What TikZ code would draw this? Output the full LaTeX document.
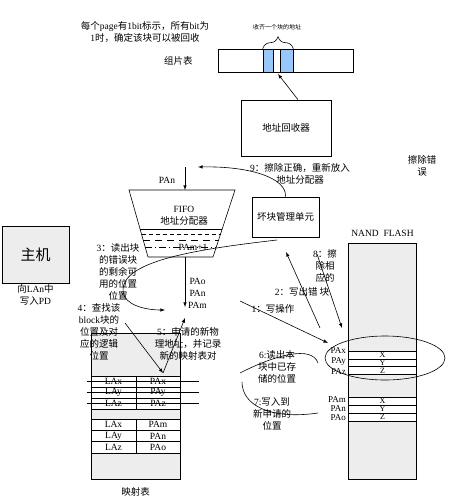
\documentclass[tikz,border=0pt]{standalone}
\usepackage{fontspec}
\setmainfont{Liberation Serif}
\newfontfamily\cjk{Noto Sans CJK SC}
\newcommand{\zh}[1]{{\cjk #1}}
\usetikzlibrary{positioning,decorations.pathreplacing}
\definecolor{cellblue}{RGB}{150,200,250}

\begin{document}
\begin{tikzpicture}[x=1pt, y=-1pt,
        box_node/.style={rectangle, draw=black, line width=0.6pt, inner sep=0pt, font=\fontsize{9.5}{12}\selectfont},
        grey_box/.style={box_node, fill=black!7},
        row_node/.style={box_node, fill=white},
        note/.style={align=center, inner sep=0pt, font=\fontsize{9.5}{12}\selectfont},
        pa_label/.style={anchor=east, inner sep=0pt, font=\fontsize{9}{10}\selectfont},
        link/.style={line width=0.6pt, -latex},
        curve/.style={line width=0.6pt},
        ]
            \useasboundingbox (0,0) rectangle (450,500);

            % fragment table
            \node[box_node, minimum width=135, minimum height=23]  (frag)    at (285.5,60.5)  {};
            \node[box_node, fill=cellblue, minimum width=10, minimum height=23]  (cell_a)  at (268,60.5)  {};
            \node[box_node, fill=cellblue, minimum width=13, minimum height=23]  (cell_b)  at (286.5,60.5)  {};
            \node[note]         (frag_name)  [left = 25pt of frag]                     {\zh{组片表}};
            \draw[curve, decorate, decoration={brace, amplitude=12pt}] (cell_a.north west) -- (cell_b.north east);
            \node[note, font=\fontsize{6}{7}\selectfont] (brace_note) at (277,27) {\zh{收齐一个块的地址}};
            \node[note]         (bit_note)   at (145,32)  {\zh{每个}page\zh{有}1bit\zh{标示，所有}bit\zh{为}\\1\zh{时，确定该块可以被回收}};
            \coordinate         (frag_gap)   at (278,74);

            % recycler and bad block unit
            \node[box_node, minimum width=90, minimum height=56]   (recycler)  at (286,128)   {\zh{地址回收器}};
            \node[box_node, minimum width=67, minimum height=40]   (badblock)  at (285.5,217) {\zh{坏块管理单元}};
            \node[note]         (note_9)     at (300,173.5) {9\zh{：擦除正确，重新放入}\\\zh{地址分配器}};
            \node[note]         (erase_err)  at (422,166)   {\zh{擦除错}\\\zh{误}};

            % FIFO
            \coordinate (fifo_tl) at (129,190);
            \coordinate (fifo_tr) at (235,190);
            \coordinate (fifo_br) at (213,257);
            \coordinate (fifo_bl) at (148,257);
            \draw[curve] (fifo_tl) -- (fifo_tr) -- (fifo_br) -- (fifo_bl) -- cycle;
            \node[note]         (fifo)       at (184,216)  {FIFO\\\zh{地址分配器}};
            \draw[curve] (140.1,229) -- (222.2,229);
            \draw[curve, dash pattern=on 4pt off 3pt] (141.5,234) -- (220.6,234);
            \draw[curve, dash pattern=on 7pt off 5pt] (143.2,240) -- (218.6,240);
            \draw[curve, dash pattern=on 7pt off 3pt on 1pt off 3pt] (145.2,247) -- (216.3,247);
            \node[note]         (pam1)       at (193,247)  {PAm+1};
            \coordinate (pan_in)   at (185,167);
            \coordinate (fifo_in)  at (185,190);
            \coordinate (fifo_out) at (185,257);
            \coordinate (alloc_pt) at (185,307);
            \node[note]         (pan_label)  at (167,180)  {PAn};
            \node[note, anchor=west] (out_list) at (188,293) {PAo\\PAn\\PAm};

            % host
            \node[grey_box, minimum width=67, minimum height=57, font=\fontsize{15}{18}\selectfont] (host) at (35.5,254.5) {\zh{主机}};
            \node[note]         (host_note)  [below = 1pt of host]  {\zh{向}LAn\zh{中}\\\zh{写入}PD};

            % mapping table
            \node[grey_box, minimum width=89, minimum height=146] (map) at (135.5,406) {};
            \node[note]         (map_name)   [below = 8pt of map]   {\zh{映射表}};
            \foreach \la/\pa [count=\i] in {LAx/PAx, LAy/PAy, LAz/PAz} {
                \node[row_node, minimum width=45, minimum height=11] (la_\i) at (113.5,370.5+11*\i) {\la};
                \node[row_node, minimum width=44, minimum height=11] (pa_\i) at (158,370.5+11*\i) {\pa};
                \draw[curve] ([xshift=-4pt]la_\i.west) -- ([xshift=19pt]pa_\i.east);
            }
            \foreach \la/\pa [count=\i] in {LAx/PAm, LAy/PAn, LAz/PAo} {
                \node[row_node, minimum width=45, minimum height=11.3] (lb_\i) at (113.5,413.35+11.3*\i) {\la};
                \node[row_node, minimum width=44, minimum height=11.3] (pb_\i) at (158,413.35+11.3*\i) {\pa};
            }

            % notes around the mapping
            \node[note]         (note_3)     at (118,272)  {3\zh{：读出块}\\\zh{的错误块}\\\zh{的剩余可}\\\zh{用的位置}\\\zh{位置}};
            \node[note]         (note_4)     at (99,332)   {4\zh{：查找该}\\block\zh{块的}\\\zh{位置及对}\\\zh{应的逻辑}\\\zh{位置}};
            \node[note]         (note_5)     at (188,344)  {5\zh{：申请的新物}\\\zh{理地址，并记录}\\\zh{新的映射表对}};
            \coordinate (bad_tail)   at (277,240);
            \coordinate (alloc_left) at (165,310);
            \coordinate (note4_end)  at (125,323);
            \coordinate (map_hit)    at (163,373);
            \coordinate (new_addr)   at (185,318);

            % NAND flash
            \node[grey_box, minimum width=68, minimum height=236] (nand) at (382.5,361) {};
            \node[note]         (nand_name)  [above = 6pt of nand]  {NAND\ \ FLASH};
            \foreach \c/\pa [count=\i] in {X/PAx, Y/PAy, Z/PAz} {
                \node[row_node, minimum width=68, minimum height=7.8, font=\fontsize{8}{8}\selectfont] (old_\i) at (382.5,347.1+7.8*\i) {\c};
                \node[pa_label] (old_pa_\i) at (346,340+10.5*\i) {\pa};
            }
            \foreach \c/\pa [count=\i] in {X/PAm, Y/PAn, Z/PAo} {
                \node[row_node, minimum width=68, minimum height=8, font=\fontsize{8}{8}\selectfont] (new_\i) at (382.5,393+8*\i) {\c};
                \node[pa_label] (new_pa_\i) at (346,391+9*\i) {\pa};
            }
            \draw[curve] (385,358) ellipse [x radius=60, y radius=22];

            % notes around the flash
            \node[note]         (note_1)     at (273,309)  {1\zh{：写操作}};
            \node[note]         (note_2)     at (302,292)  {2\zh{：写出错\ 块}};
            \node[note]         (note_8)     at (325,266)  {8\zh{：擦}\\\zh{除相}\\\zh{应的}};
            \node[note]         (note_6)     at (277,367)  {6:\zh{读出本}\\\zh{块中已存}\\\zh{储的位置}};
            \node[note]         (note_7)     at (272,414)  {7:\zh{写入到}\\\zh{新申请的}\\\zh{位置}};
            \coordinate (write_src)  at (240,301);
            \coordinate (old_entry)  at (328,343);
            \coordinate (bad_out)    at (320,328);
            \coordinate (bad_in)     at (286,252);
            \coordinate (erase_src)  at (317,254);
            \coordinate (erase_dst)  at (342,328);
            \coordinate (fifo_return) at (198,167);

            % arrows
            \draw[link] ([xshift=12pt]recycler.north) -- (frag_gap);
            \draw[link] (badblock.north) .. controls (287,178) and (250,166) .. (fifo_return);
            \draw[link] (pan_in) -- (fifo_in);
            \draw[link] (fifo_out) -- (alloc_pt);
            \draw[link] (bad_tail) .. controls (190,250) and (120,262) .. (123,292) .. controls (125,305) and (145,310) .. (alloc_left);
            \draw[link] (note4_end) -- (map_hit);
            \draw[link] (map_hit) -- (new_addr);
            \draw[link] (write_src) -- (old_entry);
            \draw[link] (bad_out) -- (bad_in);
            \draw[link] (erase_src) -- (erase_dst);

            % read / write curves
            \draw[curve] (240,373) .. controls (275,355) and (312,345) .. (318,363);
            \draw[curve] (242,382) .. controls (242,405) and (270,420) .. (318,413);

        \end{tikzpicture}
\end{document}
